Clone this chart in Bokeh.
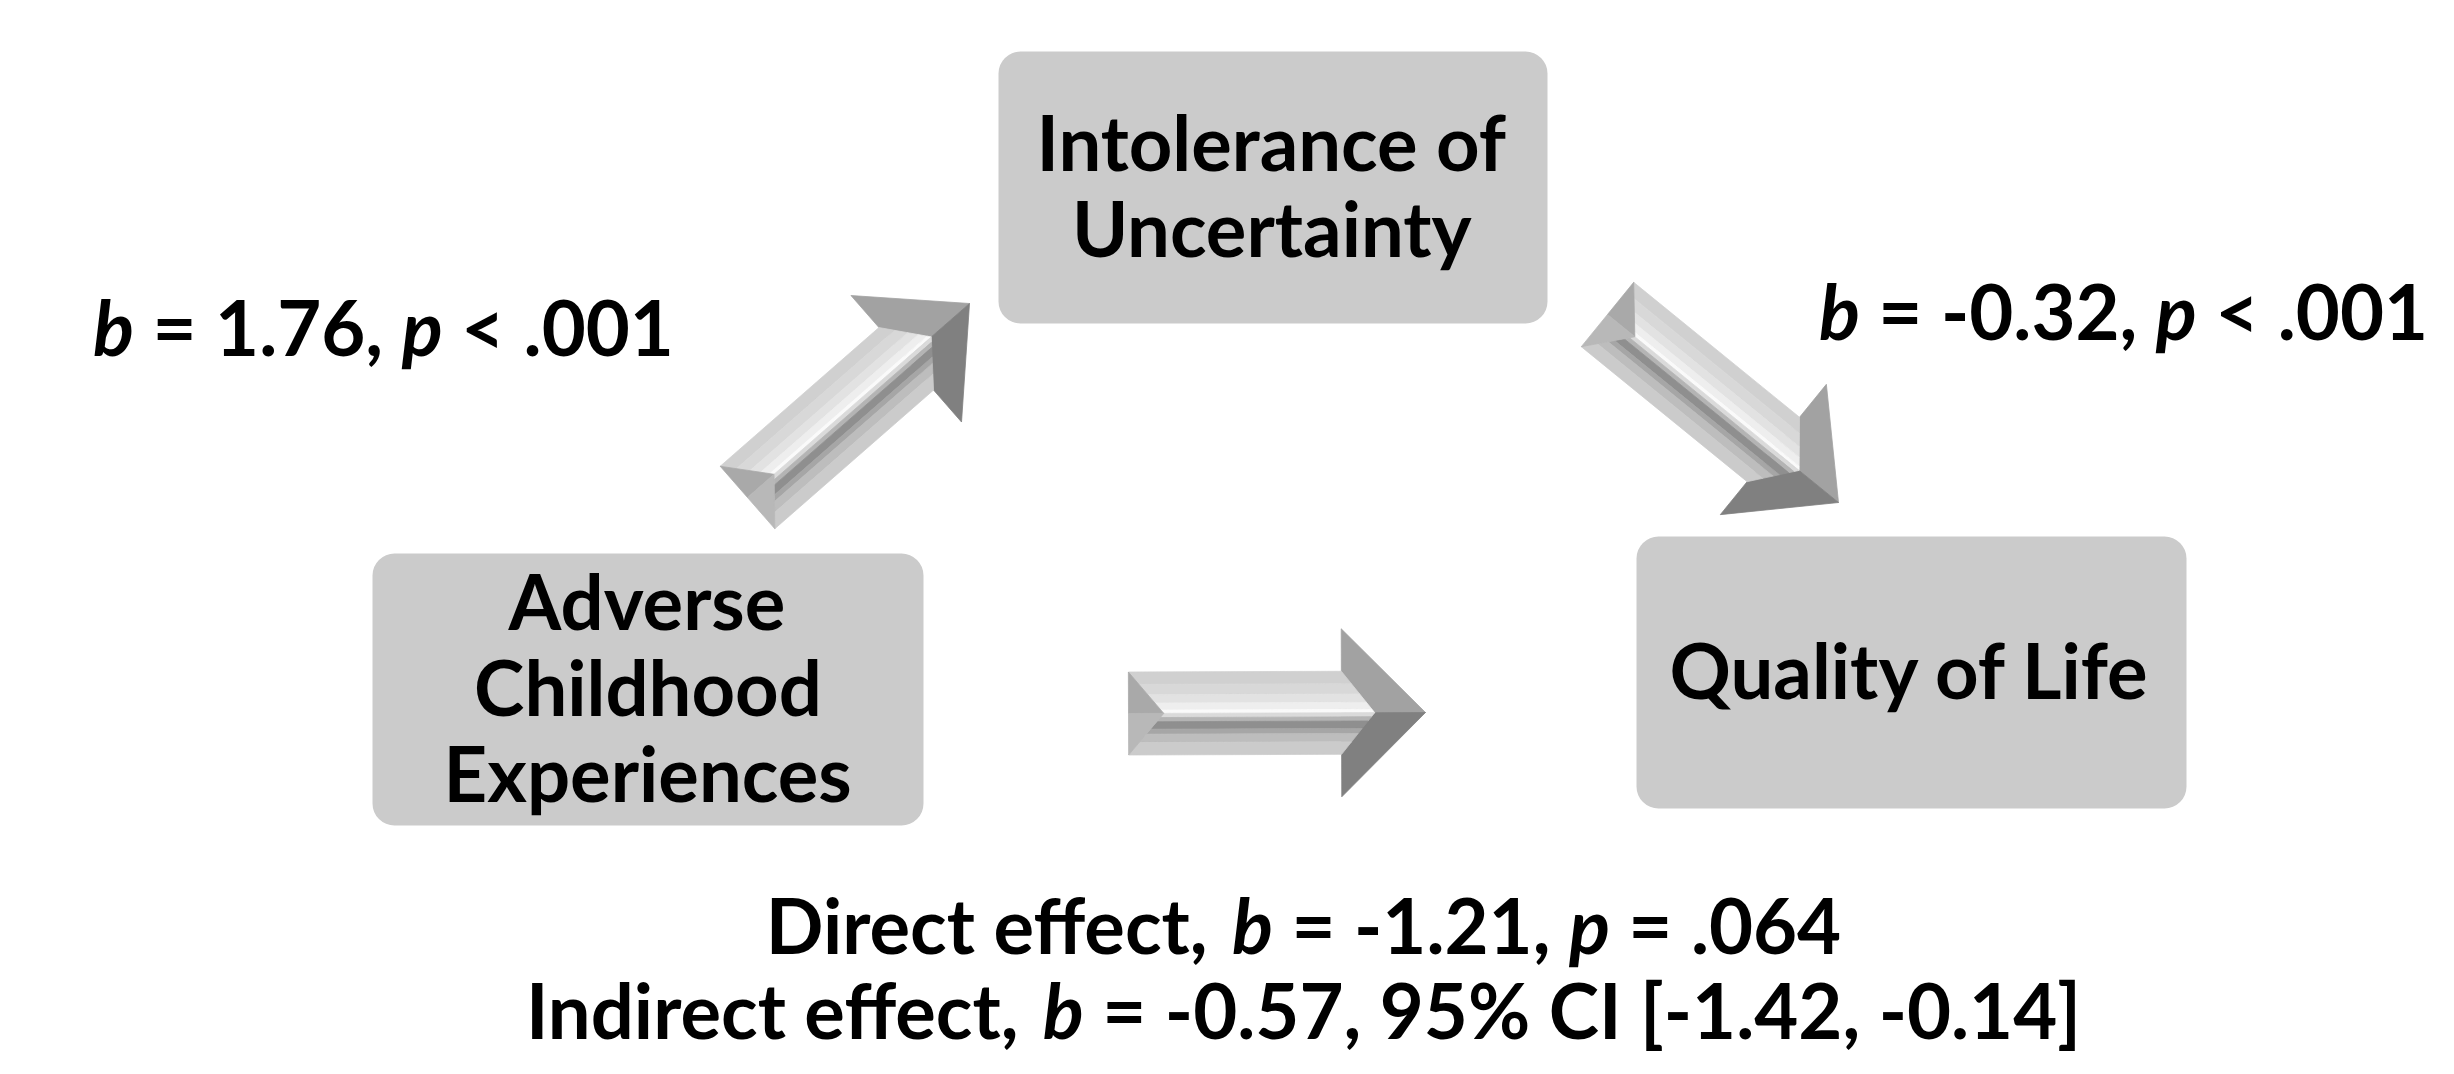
import glob
import os
import struct
from math import hypot

from bokeh.plotting import figure
from bokeh.models import Range1d, ColumnDataSource
from bokeh.core.properties import value
from bokeh.embed import file_html
from bokeh.resources import INLINE

# ---------------- data ----------------
node_keys = ["X", "M", "Y"]
node_lines = [["Adverse", "Childhood", "Experiences"],
              ["Intolerance of", "Uncertainty"],
              ["Quality of Life"]]
path_from = ["X", "M", "X"]
path_to = ["M", "Y", "Y"]
path_b = [1.76, -0.32]            # a path, b path
path_p = ["< .001", "< .001"]
direct_b = -1.21
direct_p = "= .064"
indirect_b = -0.57
indirect_ci = [-1.42, -0.14]

# ---------------- layout (picture pixels) ----------------
BOX = {"X": (372, 923, 553, 825), "M": (998, 1547, 51, 323), "Y": (1636, 2186, 536, 808)}
ARROW = {("X", "M"): ((747, 497), (969, 303)),
         ("M", "Y"): ((1607, 314), (1838, 502)),
         ("X", "Y"): ((1128, 713), (1425, 712))}
FONT = "Lato"
FS = 76
LINE_STEP = 86
CAP_MID = 0.358 * FS
TEXT_DY = -0.40 * FS      # correction for how the renderer places the alphabetic baseline

W_FIG, H_FIG = 2438, 1058
p = figure(width=W_FIG, height=H_FIG, output_backend="svg",
           toolbar_location=None, x_range=Range1d(0, W_FIG),
           y_range=Range1d(H_FIG, 0), min_border=0)
p.axis.visible = False
p.grid.visible = False
p.outline_line_color = None
p.background_fill_color = "white"
p.border_fill_color = "white"


# ---------------- font metrics ----------------
def _find_font(names):
    roots = ["/usr/share/fonts", "/usr/local/share/fonts",
             os.path.expanduser("~/.fonts"), os.path.expanduser("~/.local/share/fonts")]
    for n in names:
        for r in roots:
            hits = glob.glob(os.path.join(r, "**", n), recursive=True)
            if hits:
                return hits[0]
    return None


class Metrics:
    def __init__(self, path):
        self.ok = False
        try:
            self._load(path)
            self.ok = True
        except Exception:
            pass

    def _load(self, path):
        d = open(path, "rb").read()
        base = 0
        if d[:4] == b"ttcf":
            base = struct.unpack(">I", d[12:16])[0]
        n = struct.unpack(">H", d[base + 4:base + 6])[0]
        t = {}
        for i in range(n):
            rec = base + 12 + 16 * i
            tag, _, off, _ln = struct.unpack(">4sIII", d[rec:rec + 16])
            t[tag] = off
        self.upem = struct.unpack(">H", d[t[b"head"] + 18:t[b"head"] + 20])[0]
        nhm = struct.unpack(">H", d[t[b"hhea"] + 34:t[b"hhea"] + 36])[0]
        hm = t[b"hmtx"]
        self.adv = [struct.unpack(">H", d[hm + 4 * i:hm + 4 * i + 2])[0] for i in range(nhm)]
        cm = t[b"cmap"]
        nsub = struct.unpack(">H", d[cm + 2:cm + 4])[0]
        sub = None
        for i in range(nsub):
            pid, eid, off = struct.unpack(">HHI", d[cm + 4 + 8 * i:cm + 12 + 8 * i])
            fmt = struct.unpack(">H", d[cm + off:cm + off + 2])[0]
            if fmt == 4 and (pid == 0 or (pid == 3 and eid in (0, 1))):
                sub = cm + off
                break
        segx2 = struct.unpack(">H", d[sub + 6:sub + 8])[0]
        ns = segx2 // 2
        eo = sub + 14
        so = eo + segx2 + 2
        do = so + segx2
        ro = do + segx2
        ends = struct.unpack(">%dH" % ns, d[eo:eo + segx2])
        starts = struct.unpack(">%dH" % ns, d[so:so + segx2])
        deltas = struct.unpack(">%dH" % ns, d[do:do + segx2])
        ros = struct.unpack(">%dH" % ns, d[ro:ro + segx2])
        self.cmap = {}
        for i in range(ns):
            for c in range(starts[i], min(ends[i], 0x2FF) + 1):
                if ros[i] == 0:
                    g = (c + deltas[i]) & 0xFFFF
                else:
                    a = ro + 2 * i + ros[i] + 2 * (c - starts[i])
                    g = struct.unpack(">H", d[a:a + 2])[0]
                    if g:
                        g = (g + deltas[i]) & 0xFFFF
                self.cmap[c] = g

    def width(self, s, size):
        if not self.ok:
            return len(s) * 0.55 * size
        tot = 0
        for ch in s:
            g = self.cmap.get(ord(ch), 0)
            tot += self.adv[min(g, len(self.adv) - 1)]
        return tot * size / self.upem


M_UP = Metrics(_find_font(["Lato-Bold.ttf", "Lato-Bold.otf"]))
M_IT = Metrics(_find_font(["Lato-BoldItalic.ttf", "Lato-BoldItalic.otf"]))


def tw(s, italic):
    return (M_IT if italic else M_UP).width(s, FS)


up_src = {"x": [], "y": [], "t": []}
it_src = {"x": [], "y": [], "t": []}


def place_line(segs, cx, y):
    total = sum(tw(t, it) for t, it in segs)
    x = cx - total / 2
    for t, it in segs:
        s = t.lstrip(" ")
        lead = t[:len(t) - len(s)]
        dst = it_src if it else up_src
        if s.strip():
            dst["x"].append(x + tw(lead, it))
            dst["y"].append(y + TEXT_DY)
            dst["t"].append(s.rstrip(" "))
        x += tw(t, it)


# ---------------- boxes ----------------
bx = ColumnDataSource(dict(
    left=[BOX[k][0] for k in node_keys], right=[BOX[k][1] for k in node_keys],
    top=[BOX[k][2] for k in node_keys], bottom=[BOX[k][3] for k in node_keys]))
p.quad(left="left", right="right", top="top", bottom="bottom", source=bx,
       fill_color="#cbcbcb", line_color=None, border_radius=22)

for k, lines in zip(node_keys, node_lines):
    l, r, t, b = BOX[k]
    cx, cy = (l + r) / 2, (t + b) / 2
    n = len(lines)
    for i, ln in enumerate(lines):
        place_line([(ln, False)], cx, cy + (i - (n - 1) / 2) * LINE_STEP + CAP_MID)

# ---------------- arrows ----------------
BANDS = [(1.0, 0.7, "#d0d0d0"), (0.7, 0.45, "#d8d8d8"), (0.45, 0.25, "#e2e2e2"),
         (0.25, 0.08, "#eeeeee"), (0.08, 0.0, "#fafafa"), (0.0, -0.1, "#dadada"),
         (-0.1, -0.2, "#b4b4b4"), (-0.2, -0.38, "#8f8f8f"), (-0.38, -0.5, "#a6a6a6"),
         (-0.5, -0.7, "#bdbdbd"), (-0.7, -1.0, "#cbcbcb")]


def arrow_polys(tail, tip, w=41.5, hw=84.0, H=84.0):
    tx, ty = tail
    dx, dy = tip[0] - tx, tip[1] - ty
    total = hypot(dx, dy)
    ux, uy = dx / total, dy / total
    nx, ny = uy, -ux
    L = total - H
    bv = 0.85 * w
    ev = 0.8 * w

    def P(u, v):
        return (tx + u * ux + v * nx, ty + u * uy + v * ny)

    out = [([P(L, 0), P(L, hw), P(total, 0)], "#a2a2a2"),
           ([P(L, 0), P(L, -hw), P(total, 0)], "#808080")]
    for v1, v2, col in BANDS:
        pts = [P(bv * (1 - abs(v1)), v1 * w), P(L + ev * (1 - abs(v1)), v1 * w),
               P(L + ev * (1 - abs(v2)), v2 * w), P(bv * (1 - abs(v2)), v2 * w)]
        out.append((pts, col))
    out.append(([P(0, w), P(bv, 0), P(0, 0)], "#a9a9a9"))
    out.append(([P(0, 0), P(bv, 0), P(0, -w)], "#b8b8b8"))
    return out


axs, ays, acol = [], [], []
for f, t in zip(path_from, path_to):
    tail, tip = ARROW[(f, t)]
    for pts, col in arrow_polys(tail, tip):
        axs.append([q[0] for q in pts])
        ays.append([q[1] for q in pts])
        acol.append(col)
p.patches(xs="xs", ys="ys", source=ColumnDataSource(dict(xs=axs, ys=ays, c=acol)),
          fill_color="c", line_color="c", line_width=0.8)

# ---------------- path labels ----------------
fmt = lambda v: f"{v:.2f}"
place_line([("b", True), (f" = {fmt(path_b[0])}, ", False), ("p", True), (f" {path_p[0]}", False)], 383, 356)
place_line([("b", True), (f" = {fmt(path_b[1])}, ", False), ("p", True), (f" {path_p[1]}", False)], 2123, 340)
place_line([("Direct effect, ", False), ("b", True), (f" = {fmt(direct_b)}, ", False),
            ("p", True), (f" {direct_p}", False)], 1303, 954)
place_line([("Indirect effect, ", False), ("b", True),
            (f" = {fmt(indirect_b)}, 95% CI [{fmt(indirect_ci[0])}, {fmt(indirect_ci[1])}]", False)],
           1303, 1039)

common = dict(text_font=value(FONT), text_font_size=f"{FS}px", text_color="black",
              text_align="left", text_baseline="alphabetic")
p.text(x="x", y="y", text="t", source=ColumnDataSource(up_src), text_font_style="bold", **common)
p.text(x="x", y="y", text="t", source=ColumnDataSource(it_src), text_font_style="bold italic", **common)

open("out.html", "w").write(file_html(p, INLINE))
